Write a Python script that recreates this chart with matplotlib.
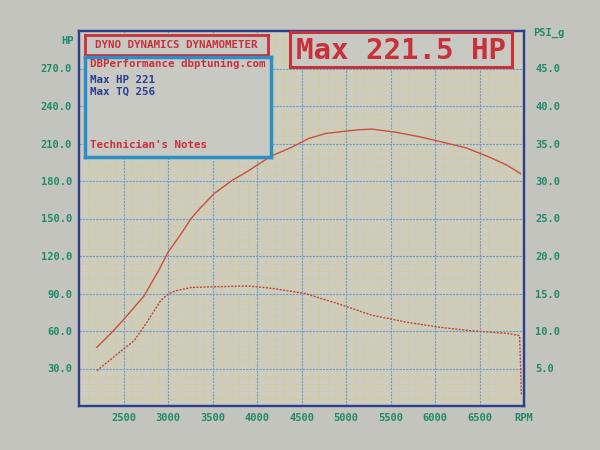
import matplotlib
matplotlib.use("Agg")
import matplotlib.pyplot as plt
from matplotlib.ticker import MultipleLocator

# power curve (HP, left axis)
rpm_hp = [2200, 2370, 2500, 2730, 2900, 3000, 3150, 3260, 3370, 3520, 3710, 3900,
          4160, 4390, 4580, 4770, 4950, 5140, 5290, 5560, 5820, 6090, 6350, 6580,
          6800, 6960]
hp = [47, 59, 69, 88, 109, 123, 138, 150, 159, 170, 180, 188,
      200, 207, 214, 218, 219.5, 221, 221.5, 219, 215.5, 211, 206.5, 200,
      193, 186]

# boost curve (PSI_g, right axis)
rpm_boost = [2200, 2500, 2620, 2770, 2920, 3010, 3100, 3260, 3520, 3900, 4160,
             4540, 4920, 5290, 5670, 6050, 6430, 6800, 6950, 6960, 6970]
boost_psi = [4.7, 7.6, 8.7, 11.3, 14.1, 15.0, 15.4, 15.8, 15.9, 16.0, 15.7,
             15.0, 13.6, 12.1, 11.2, 10.5, 10.0, 9.7, 9.4, 6.0, 1.5]

x_ticks = [2500, 3000, 3500, 4000, 4500, 5000, 5500, 6000, 6500, 7000]
x_labels = ["2500", "3000", "3500", "4000", "4500", "5000", "5500", "6000", "6500", "RPM"]
hp_ticks = [30, 60, 90, 120, 150, 180, 210, 240, 270]
psi_ticks = [5, 10, 15, 20, 25, 30, 35, 40, 45]

W, H = 600, 450
MONO = "DejaVu Sans Mono"
TEAL = "#1f8a6a"
RED = "#c8303a"
NAVY = "#2b3f8f"
PAPER = "#c9c9c4"


def box(x0, y0, x1, y1):
    # pixel box (top-left origin) -> figure fraction rect
    return [x0 / W, 1 - y1 / H, (x1 - x0) / W, (y1 - y0) / H]


fig = plt.figure(figsize=(6, 4.5), dpi=100, facecolor="#c4c4bf")

ax = fig.add_axes(box(79, 31, 524, 406))
ax.set_facecolor("#cdccbe")
ax.set_xlim(2000, 7000)
ax.set_ylim(0, 300)
ax.set_xticks(x_ticks)
ax.set_xticklabels(x_labels)
ax.set_yticks(hp_ticks)
ax.set_yticklabels([f"{v:.1f}" for v in hp_ticks])
ax.xaxis.set_minor_locator(MultipleLocator(100))
ax.yaxis.set_minor_locator(MultipleLocator(6))
ax.grid(which="minor", color="#d6cd80", lw=0.5, ls=(0, (2, 1.5)))
ax.grid(which="major", color="#6f9cbc", lw=0.8, ls=(0, (2, 1)))
ax.tick_params(which="both", length=0)
ax.tick_params(colors=TEAL, labelsize=7.5, pad=5)
for s in ax.spines.values():
    s.set_color(NAVY)
    s.set_linewidth(1.6)
for lab in ax.get_xticklabels() + ax.get_yticklabels():
    lab.set_fontfamily(MONO)
    lab.set_fontweight("bold")

ax.plot(rpm_hp, hp, color="#c8503c", lw=1.0)

ax2 = ax.twinx()
ax2.set_ylim(0, 50)
ax2.set_yticks(psi_ticks)
ax2.set_yticklabels([f"{v:.1f}" for v in psi_ticks])
ax2.tick_params(length=0, colors=TEAL, labelsize=7.5, pad=8)
for lab in ax2.get_yticklabels():
    lab.set_fontfamily(MONO)
    lab.set_fontweight("bold")
for s in ax2.spines.values():
    s.set_color(NAVY)
    s.set_linewidth(1.6)
ax2.plot(rpm_boost, boost_psi, color="#c04838", lw=1.0, ls=(0, (1.5, 1)))

fig.text(68 / W, 1 - 41 / H, "HP", ha="center", va="center", color=TEAL,
         fontsize=7.5, fontfamily=MONO, fontweight="bold")
fig.text(549 / W, 1 - 33 / H, "PSI_g", ha="center", va="center", color=TEAL,
         fontsize=7.5, fontfamily=MONO, fontweight="bold")

# title box
t = fig.add_axes(box(85, 35, 268, 55))
t.set_facecolor(PAPER)
t.set_xticks([])
t.set_yticks([])
for s in t.spines.values():
    s.set_color(RED)
    s.set_linewidth(2)
t.text(0.5, 0.5, "DYNO DYNAMICS DYNAMOMETER", ha="center", va="center",
       color=RED, fontsize=7.8, fontfamily=MONO, fontweight="bold")

# info box
info = fig.add_axes(box(85, 57, 271, 157))
info.set_facecolor(PAPER)
info.set_xticks([])
info.set_yticks([])
for s in info.spines.values():
    s.set_color("#2a8ec8")
    s.set_linewidth(2.5)
lines = [("DBPerformance dbptuning.com", 64, RED),
         ("Max HP 221", 80, NAVY),
         ("Max TQ 256", 92, NAVY),
         ("Technician's Notes", 145, RED)]
for txt, y, c in lines:
    info.text(5 / 186, 1 - (y - 57) / 100, txt, ha="left", va="center", color=c,
              fontsize=7.8, fontfamily=MONO, fontweight="bold")

# big max box
big = fig.add_axes(box(290, 32, 512, 67))
big.set_facecolor(PAPER)
big.set_xticks([])
big.set_yticks([])
for s in big.spines.values():
    s.set_color(RED)
    s.set_linewidth(2.2)
big.text(0.5, 0.47, "Max 221.5 HP", ha="center", va="center", color=RED,
         fontsize=21, fontfamily=MONO, fontweight="bold")

fig.savefig("out.png", dpi=100, facecolor=fig.get_facecolor())
